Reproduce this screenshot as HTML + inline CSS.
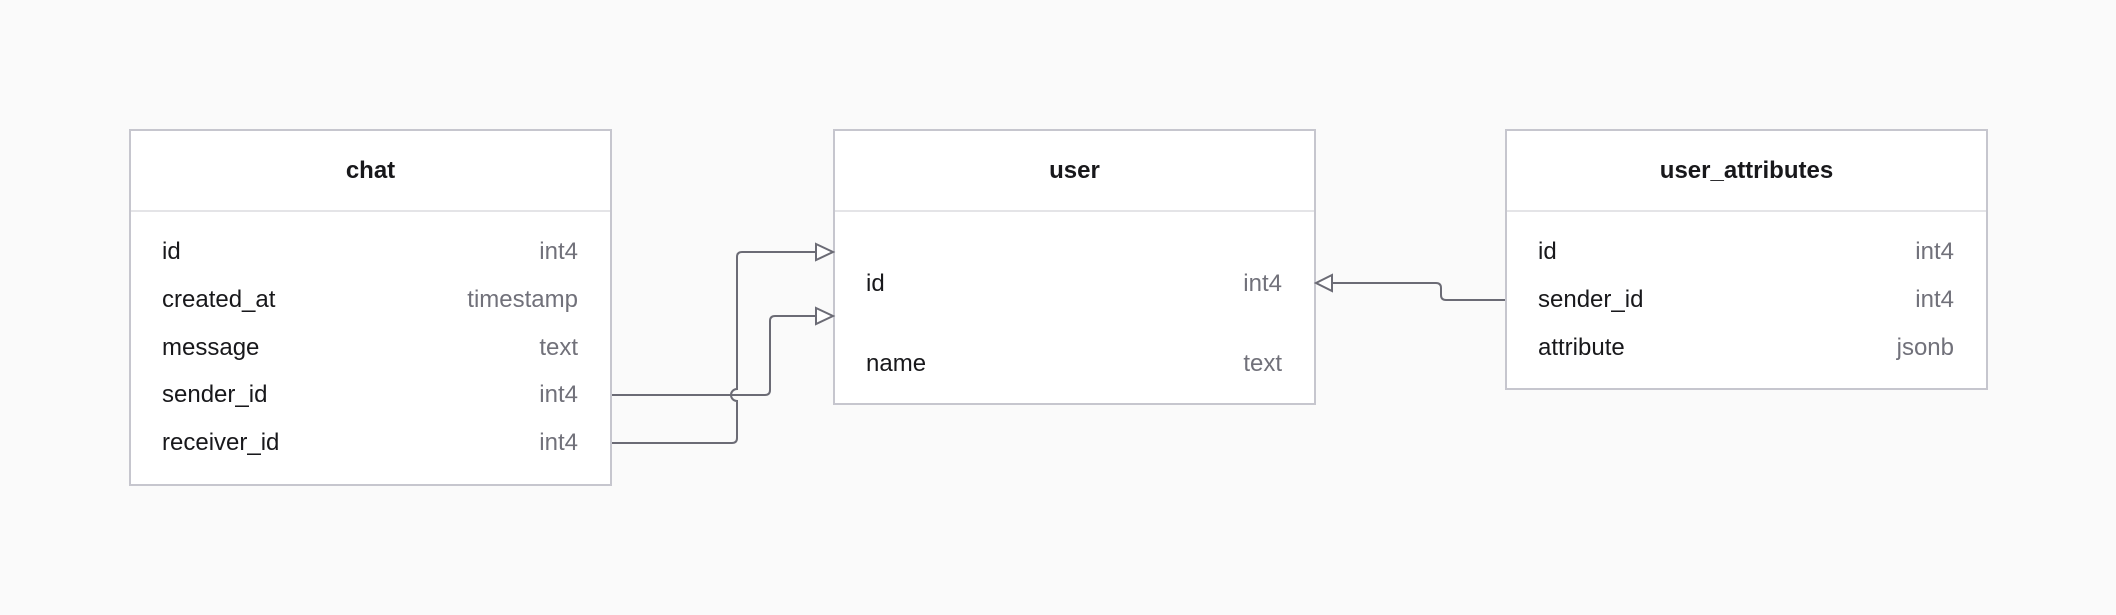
<!DOCTYPE html>
<html><head><meta charset="utf-8"><style>
html,body{margin:0;padding:0;background:#fafafa;}
body{width:2116px;height:615px;position:relative;overflow:hidden;font-family:"Liberation Sans",sans-serif;}
.t{position:absolute;background:#fff;border:2px solid #c6c6ce;box-sizing:border-box;}
.h{position:absolute;left:0;right:0;top:0;height:79px;border-bottom:2px solid #e4e4e7;text-align:center;line-height:79px;font-weight:bold;font-size:24px;color:#18181b;}
.r{position:absolute;left:31px;right:32px;height:30px;line-height:30px;font-size:24px;color:#18181b;}
.r span{float:right;color:#71717a;}
svg{position:absolute;left:0;top:0;}
</style></head><body>
<div class="t" style="left:129px;top:129px;width:483px;height:357px;">
<div class="h">chat</div>
<div class="r" style="top:106px">id<span>int4</span></div>
<div class="r" style="top:154px">created_at<span>timestamp</span></div>
<div class="r" style="top:202px">message<span>text</span></div>
<div class="r" style="top:249px">sender_id<span>int4</span></div>
<div class="r" style="top:297px">receiver_id<span>int4</span></div>
</div>
<div class="t" style="left:833px;top:129px;width:483px;height:276px;">
<div class="h">user</div>
<div class="r" style="top:138px">id<span>int4</span></div>
<div class="r" style="top:218px">name<span>text</span></div>
</div>
<div class="t" style="left:1505px;top:129px;width:483px;height:261px;">
<div class="h">user_attributes</div>
<div class="r" style="top:106px">id<span>int4</span></div>
<div class="r" style="top:154px">sender_id<span>int4</span></div>
<div class="r" style="top:202px">attribute<span>jsonb</span></div>
</div>
<svg width="2116" height="615" fill="none" stroke="#6b6b75" stroke-width="2">
<path d="M612 395 H765 Q770 395 770 390 V321 Q770 316 775 316 H816"/>
<path d="M612 443 H732 Q737 443 737 438 V401 A6 6 0 0 1 737 389 V257 Q737 252 742 252 H816"/>
<path d="M1505 300 H1446 Q1441 300 1441 295 V288 Q1441 283 1436 283 H1332"/>
<path d="M816 244 L833 252 L816 260 Z" fill="#fff"/>
<path d="M816 308 L833 316 L816 324 Z" fill="#fff"/>
<path d="M1332 275 L1316 283 L1332 291 Z" fill="#fff"/>
</svg>
</body></html>
